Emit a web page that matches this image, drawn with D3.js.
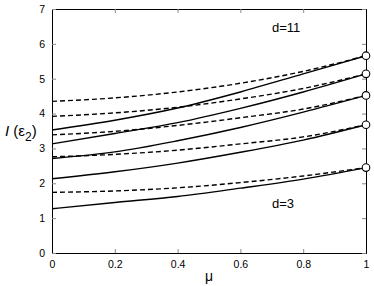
<!DOCTYPE html>
<html>
<head>
<meta charset="utf-8">
<script src="https://cdn.jsdelivr.net/npm/d3@7"></script>
<style>
  body { margin: 0; background: #fff; }
  svg { font-family: "Liberation Sans", Arial, sans-serif; }
</style>
</head>
<body>
<div id="chart"></div>
<script>
// mu values along the x axis
var mu = [0, 0.2, 0.4, 0.6, 0.8, 1];

// solid curves, d = 3 .. 11
var solid3  = [1.27, 1.45, 1.62, 1.86, 2.12, 2.45];
var solid5  = [2.13, 2.33, 2.58, 2.89, 3.24, 3.68];
var solid7  = [2.71, 2.90, 3.22, 3.60, 4.04, 4.52];
var solid9  = [3.13, 3.43, 3.74, 4.15, 4.62, 5.14];
var solid11 = [3.53, 3.81, 4.16, 4.62, 5.14, 5.66];

// dashed curves, d = 3 .. 11
var dashed3  = [1.74, 1.78, 1.87, 2.02, 2.21, 2.45];
var dashed5  = [2.76, 2.83, 2.95, 3.13, 3.33, 3.68];
var dashed7  = [3.39, 3.49, 3.66, 3.88, 4.13, 4.52];
var dashed9  = [3.92, 4.02, 4.18, 4.42, 4.72, 5.14];
var dashed11 = [4.35, 4.45, 4.62, 4.87, 5.21, 5.66];

var xTicks = [0, 0.2, 0.4, 0.6, 0.8, 1];
var yTicks = [0, 1, 2, 3, 4, 5, 6, 7];

var width = 374, height = 286;
var margin = { left: 52, right: 8, top: 9, bottom: 33 };

var svg = d3.select('#chart').append('svg')
    .attr('width', width)
    .attr('height', height);

var x = d3.scaleLinear().domain([0, 1]).range([margin.left, width - margin.right]);
var y = d3.scaleLinear().domain([0, 7]).range([height - margin.bottom, margin.top]);

var line = d3.line()
    .x(function(d, i) { return x(mu[i]); })
    .y(function(d) { return y(d); })
    .curve(d3.curveMonotoneX);

var solids = [solid3, solid5, solid7, solid9, solid11];
var dashes = [dashed3, dashed5, dashed7, dashed9, dashed11];

// axes, matlab style: ticks inside on all four sides
var tk = 4;
svg.append('g')
    .attr('transform', 'translate(0,' + y(0) + ')')
    .call(d3.axisBottom(x).tickValues(xTicks).tickSize(-tk).tickPadding(tk + 4)
        .tickFormat(function(d) { return d === 0 || d === 1 ? d : d3.format('.1f')(d); }));
svg.append('g')
    .attr('transform', 'translate(0,' + y(7) + ')')
    .call(d3.axisTop(x).tickValues(xTicks).tickSize(-tk).tickFormat(''));
svg.append('g')
    .attr('transform', 'translate(' + x(0) + ',0)')
    .call(d3.axisLeft(y).tickValues(yTicks).tickSize(-tk).tickPadding(tk + 3)
        .tickFormat(d3.format('d')));
svg.append('g')
    .attr('transform', 'translate(' + x(1) + ',0)')
    .call(d3.axisRight(y).tickValues(yTicks).tickSize(-tk).tickFormat(''));

svg.selectAll('.domain').attr('stroke', '#000');
svg.selectAll('.tick line').attr('stroke', '#888');
svg.selectAll('.tick text').attr('fill', '#000').style('font-size', '10.5px');

svg.append('g').selectAll('path')
    .data(dashes)
    .enter().append('path')
    .attr('d', line)
    .attr('fill', 'none')
    .attr('stroke', '#000')
    .attr('stroke-width', 1.4)
    .attr('stroke-dasharray', '5,3');

svg.append('g').selectAll('path')
    .data(solids)
    .enter().append('path')
    .attr('d', line)
    .attr('fill', 'none')
    .attr('stroke', '#000')
    .attr('stroke-width', 1.4);

svg.append('g').selectAll('circle')
    .data(solids)
    .enter().append('circle')
    .attr('cx', x(1))
    .attr('cy', function(d) { return y(d[d.length - 1]); })
    .attr('r', 3.8)
    .attr('fill', '#fff')
    .attr('stroke', '#000')
    .attr('stroke-width', 1.1);

svg.append('text')
    .attr('x', 272).attr('y', 32)
    .style('font-size', '13px')
    .text('d=11');
svg.append('text')
    .attr('x', 272).attr('y', 208)
    .style('font-size', '13px')
    .text('d=3');

svg.append('text')
    .attr('x', x(0.5)).attr('y', 281)
    .attr('text-anchor', 'middle')
    .style('font-size', '14px')
    .text('μ');

var yl = svg.append('text')
    .attr('x', 5).attr('y', 136)
    .style('font-size', '15px');
yl.append('tspan').style('font-style', 'italic').text('I');
yl.append('tspan').text(' (ε');
yl.append('tspan').attr('dy', 5).style('font-size', '12px').text('2');
yl.append('tspan').attr('dy', -5).text(')');
</script>
</body>
</html>
